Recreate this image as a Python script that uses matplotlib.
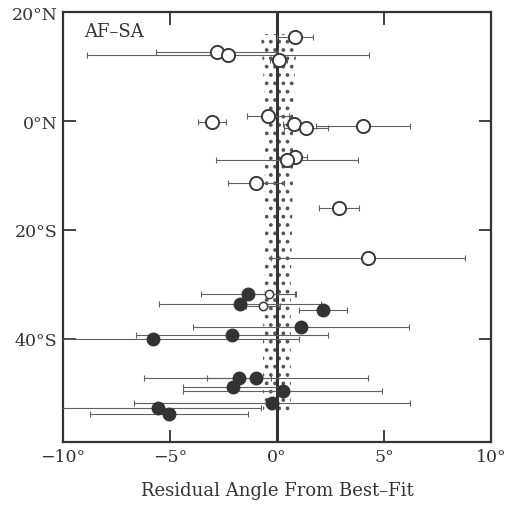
import numpy as np
import matplotlib
matplotlib.use("Agg")
import matplotlib.pyplot as plt

plt.rcParams["font.family"] = ["DejaVu Serif"]
plt.rcParams["hatch.color"] = "#555555"
plt.rcParams["hatch.linewidth"] = 1.5

# residuos: latitud, residuo (grados), error
open_lat = [15.5, 12.8, 12.2, 11.3, 1.0, -0.1, -0.6, -1.2, -0.8, -6.5, -7.1, -11.3, -15.9, -25.1]
open_res = [0.84, -2.80, -2.29, 0.09, -0.42, -3.04, 0.79, 1.36, 4.02, 0.84, 0.47, -0.98, 2.90, 4.25]
open_err = [0.84, 2.85, 6.6, 0.4, 0.98, 0.64, 0.5, 1.03, 2.2, 0.57, 3.3, 1.3, 0.93, 4.55]

small_lat = [-31.7, -33.9]
small_res = [-0.37, -0.65]
small_err = [1.25, 0.8]

fill_lat = [-31.7, -33.7, -34.8, -37.8, -39.4, -40.0, -47.2, -47.2, -48.8, -49.7, -51.9, -52.8, -53.9]
fill_res = [-1.36, -1.73, 2.15, 1.12, -2.10, -5.79, -0.98, -1.78, -2.06, 0.28, -0.23, -5.56, -5.05]
fill_err = [2.2, 3.8, 1.12, 5.05, 4.5, 6.8, 5.25, 1.5, 2.35, 4.65, 6.45, 4.8, 3.7]

# banda de incertidumbre del polo de mejor ajuste
band_lat = [16.0, 10.0, 0.0, -10.0, -20.0, -30.0, -40.0, -50.0, -54.0]
band_lo = [-0.75, -0.65, -0.55, -0.6, -0.55, -0.6, -0.65, -0.65, -0.65]
band_hi = [0.95, 0.85, 0.75, 0.75, 0.7, 0.65, 0.65, 0.65, 0.65]

fig = plt.figure(figsize=(5.28, 5.06), dpi=100)
ax = fig.add_axes([0.119, 0.1245, 0.811, 0.849])

ax.fill_betweenx(band_lat, band_lo, band_hi, facecolor="none", edgecolor="#555555",
                 hatch="..", linewidth=0, zorder=1)
ax.axvline(0, color="#333333", lw=2.2, zorder=2)

err_style = dict(fmt="none", ecolor="#606060", elinewidth=0.8, capsize=2.5, capthick=0.8, zorder=3)
ax.errorbar(open_res, open_lat, xerr=open_err, **err_style)
ax.errorbar(small_res, small_lat, xerr=small_err, **err_style)
ax.errorbar(fill_res, fill_lat, xerr=fill_err, **err_style)

ax.plot(open_res, open_lat, "o", ms=9.5, mfc="white", mec="#3a3a3a", mew=1.4, ls="none", zorder=4)
ax.plot(small_res, small_lat, "o", ms=6, mfc="white", mec="#3a3a3a", mew=1.1, ls="none", zorder=4)
ax.plot(fill_res, fill_lat, "o", ms=9, mfc="#333333", mec="#333333", ls="none", zorder=5)

ax.set_xlim(-10, 10)
ax.set_ylim(-59, 20)
ax.set_xticks([-10, -5, 0, 5, 10])
ax.set_xticklabels(["\u221210\u00b0", "\u22125\u00b0", "0\u00b0", "5\u00b0", "10\u00b0"])
ax.set_yticks([20, 0, -20, -40])
ax.set_yticklabels(["20\u00b0N", "0\u00b0N", "20\u00b0S", "40\u00b0S"])
ax.tick_params(direction="in", length=9, width=1.3, colors="#333333", labelsize=12.5,
               top=True, right=True, labelcolor="#333333", pad=4)
for s in ax.spines.values():
    s.set_linewidth(1.6)
    s.set_color("#333333")

ax.text(-9.0, 16.5, "AF\u2013SA", fontsize=13, color="#333333", va="center")
ax.set_xlabel("Residual Angle From Best\u2013Fit", fontsize=13, color="#333333", labelpad=12)

fig.savefig("out.png", dpi=100)
